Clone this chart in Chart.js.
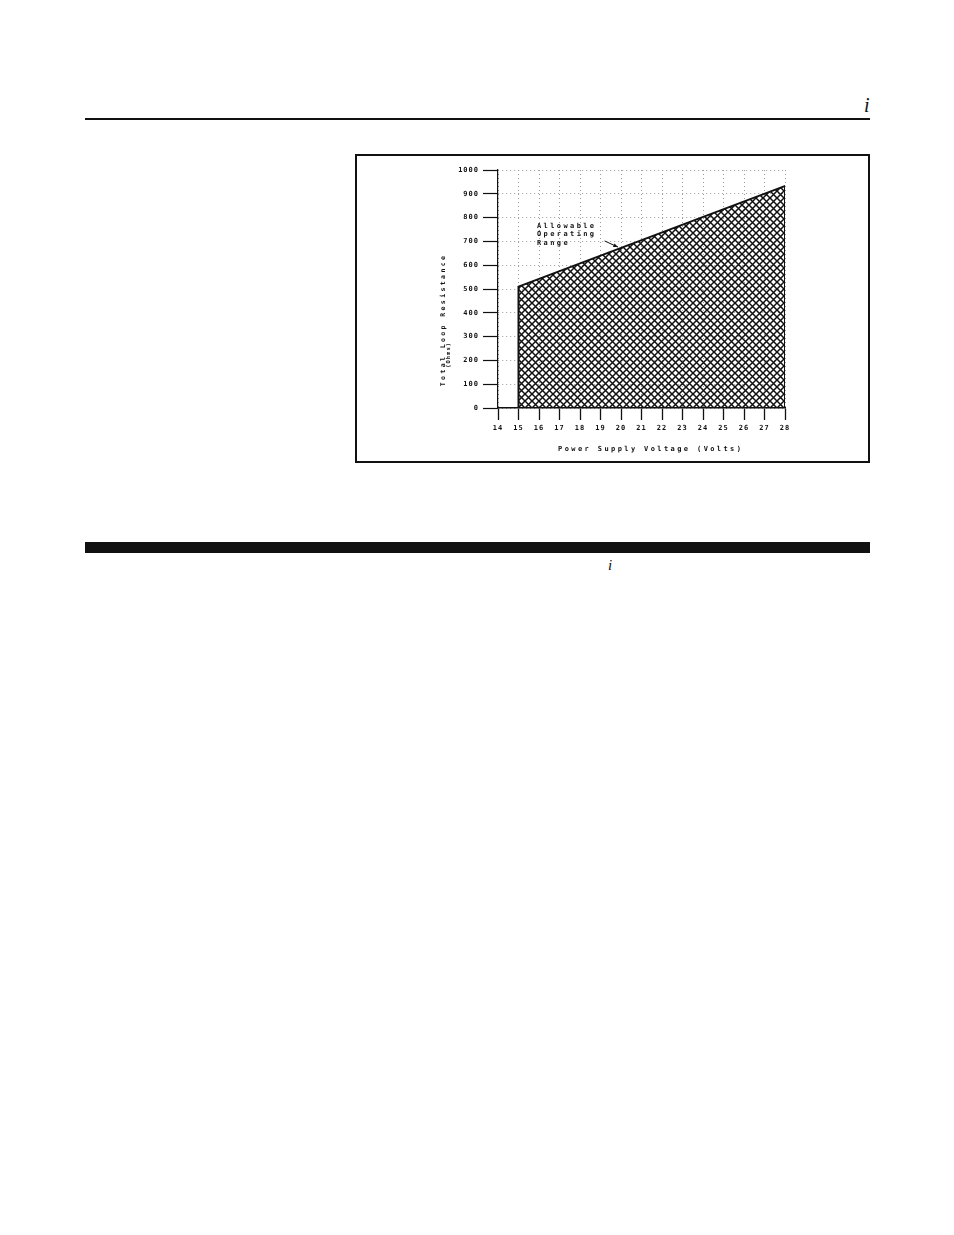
<!DOCTYPE html>
<html>
<head>
<meta charset="utf-8">
<title>Total Loop Resistance vs Power Supply Voltage</title>
<script src="https://cdn.jsdelivr.net/npm/chart.js@4.4.1/dist/chart.umd.min.js"></script>
<style>
  html, body { margin: 0; padding: 0; background: #fff; }
  body { width: 954px; height: 1235px; position: relative; overflow: hidden; }
  .rule-top { position: absolute; left: 85px; top: 118px; width: 785px; height: 2px; background: #111; }
  .page-i { position: absolute; font-family: 'Liberation Serif', serif; font-style: italic; color: #111; line-height: 1; }
  #head-i { left: 864px; top: 95px; font-size: 20px; }
  #foot-i { left: 608px; top: 558px; font-size: 15px; }
  .frame { position: absolute; left: 355px; top: 154px; width: 511px; height: 305px; border: 2px solid #111; }
  .frame canvas { display: block; }
  .bar { position: absolute; left: 85px; top: 542px; width: 785px; height: 11px; background: #111; }
</style>
</head>
<body>
<div id="head-i" class="page-i">i</div>
<div class="rule-top"></div>

<div class="frame">
  <canvas id="loopChart" width="511" height="305"></canvas>
</div>

<div class="bar"></div>
<div id="foot-i" class="page-i">i</div>

<script>
// Operating region: supply voltage (V) against max loop resistance (ohms)
const voltage = [15, 15, 28, 28];
const resistance = [0, 510, 933, 0];

const xTicks = [14, 15, 16, 17, 18, 19, 20, 21, 22, 23, 24, 25, 26, 27, 28];
const yTicks = [0, 100, 200, 300, 400, 500, 600, 700, 800, 900, 1000];

const xTitle = 'Power Supply Voltage (Volts)';
const yTitle = ['Total Loop Resistance', '(Ohms)'];
const noteLines = ['Allowable', 'Operating', 'Range'];

// where the note sits, in data units
const notePos = { x: 15.9, y: 765 };
const arrowFrom = { x: 19.2, y: 702 };
const arrowTo = { x: 19.85, y: 676 };

const ink = '#111';
const mono = '"DejaVu Sans Mono", "Liberation Mono", monospace';

function crossHatch() {
    const c = document.createElement('canvas');
    c.width = 7;
    c.height = 7;
    const g = c.getContext('2d');
    g.strokeStyle = ink;
    g.lineWidth = 1.5;
    g.beginPath();
    g.moveTo(-1, -1); g.lineTo(8, 8);
    g.moveTo(-1, 8); g.lineTo(8, -1);
    g.stroke();
    return g.createPattern(c, 'repeat');
}

// plotter-style spacing for the tick labels
const spacing = {
    id: 'spacing',
    beforeDraw(chart) {
        chart.ctx.letterSpacing = '1px';
    }
};

// axis titles + the "Allowable Operating Range" note with its arrow
const extraText = {
    id: 'extraText',
    afterDraw(chart) {
        const { ctx, chartArea } = chart;
        const x = chart.scales.x;
        const y = chart.scales.y;
        ctx.save();
        ctx.fillStyle = ink;
        ctx.strokeStyle = ink;
        ctx.textBaseline = 'middle';

        // x title
        ctx.font = 'bold 7px ' + mono;
        ctx.letterSpacing = '2.4px';
        ctx.textAlign = 'center';
        ctx.fillText(xTitle, x.getPixelForValue(21.45), chartArea.bottom + 41);

        // note
        ctx.textAlign = 'left';
        noteLines.forEach((t, i) => {
            ctx.fillText(t, x.getPixelForValue(notePos.x), y.getPixelForValue(notePos.y) + i * 8.5);
        });

        // arrow
        const ax = x.getPixelForValue(arrowFrom.x), ay = y.getPixelForValue(arrowFrom.y);
        const bx = x.getPixelForValue(arrowTo.x), by = y.getPixelForValue(arrowTo.y);
        ctx.lineWidth = 1;
        ctx.beginPath();
        ctx.moveTo(ax, ay);
        ctx.lineTo(bx, by);
        ctx.stroke();
        const ang = Math.atan2(by - ay, bx - ax);
        ctx.beginPath();
        ctx.moveTo(bx, by);
        ctx.lineTo(bx - 5 * Math.cos(ang - 0.4), by - 5 * Math.sin(ang - 0.4));
        ctx.lineTo(bx - 5 * Math.cos(ang + 0.4), by - 5 * Math.sin(ang + 0.4));
        ctx.closePath();
        ctx.fill();

        // y title, rotated
        ctx.font = 'bold 6.5px ' + mono;
        ctx.letterSpacing = '2.4px';
        ctx.textAlign = 'center';
        ctx.save();
        ctx.translate(chartArea.left - 55, y.getPixelForValue(370));
        ctx.rotate(-Math.PI / 2);
        ctx.fillText(yTitle[0], 0, 0);
        ctx.restore();
        ctx.font = 'bold 5.5px ' + mono;
        ctx.letterSpacing = '1px';
        ctx.save();
        ctx.translate(chartArea.left - 49, y.getPixelForValue(223));
        ctx.rotate(-Math.PI / 2);
        ctx.fillText(yTitle[1], 0, 0);
        ctx.restore();

        ctx.restore();
    }
};

const ctx = document.getElementById('loopChart').getContext('2d');

new Chart(ctx, {
    type: 'line',
    data: {
        datasets: [{
            data: voltage.map((v, i) => ({ x: v, y: resistance[i] })),
            borderColor: ink,
            borderWidth: 2,
            backgroundColor: crossHatch(),
            fill: 'origin',
            pointRadius: 0,
            tension: 0
        }]
    },
    options: {
        responsive: false,
        animation: false,
        layout: {
            padding: { top: 14, right: 83, bottom: 0, left: 0 }
        },
        plugins: {
            legend: { display: false },
            tooltip: { enabled: false }
        },
        scales: {
            x: {
                type: 'linear',
                min: 14,
                max: 28,
                afterBuildTicks: s => { s.ticks = xTicks.map(v => ({ value: v })); },
                afterFit: s => { s.height = 53; },
                grid: {
                    color: '#9a9a9a',
                    lineWidth: 1,
                    tickLength: 12,
                    tickColor: ink,
                    tickWidth: 1.3,
                    tickBorderDash: []
                },
                border: { color: ink, width: 1.5, dash: [1, 3] },
                ticks: {
                    color: ink,
                    padding: 4,
                    maxRotation: 0,
                    autoSkip: false,
                    callback: v => String(v),
                    font: { family: mono, size: 7, weight: 'bold' }
                }
            },
            y: {
                min: 0,
                max: 1000,
                afterBuildTicks: s => { s.ticks = yTicks.map(v => ({ value: v })); },
                afterFit: s => { s.width = 141; },
                grid: {
                    color: '#9a9a9a',
                    lineWidth: 1,
                    tickLength: 15,
                    tickColor: ink,
                    tickWidth: 1.2,
                    tickBorderDash: []
                },
                border: { color: ink, width: 1.2, dash: [1, 3] },
                ticks: {
                    color: ink,
                    padding: 4,
                    autoSkip: false,
                    callback: v => String(v),
                    font: { family: mono, size: 7, weight: 'bold' }
                }
            }
        }
    },
    plugins: [spacing, extraText]
});
</script>
</body>
</html>
